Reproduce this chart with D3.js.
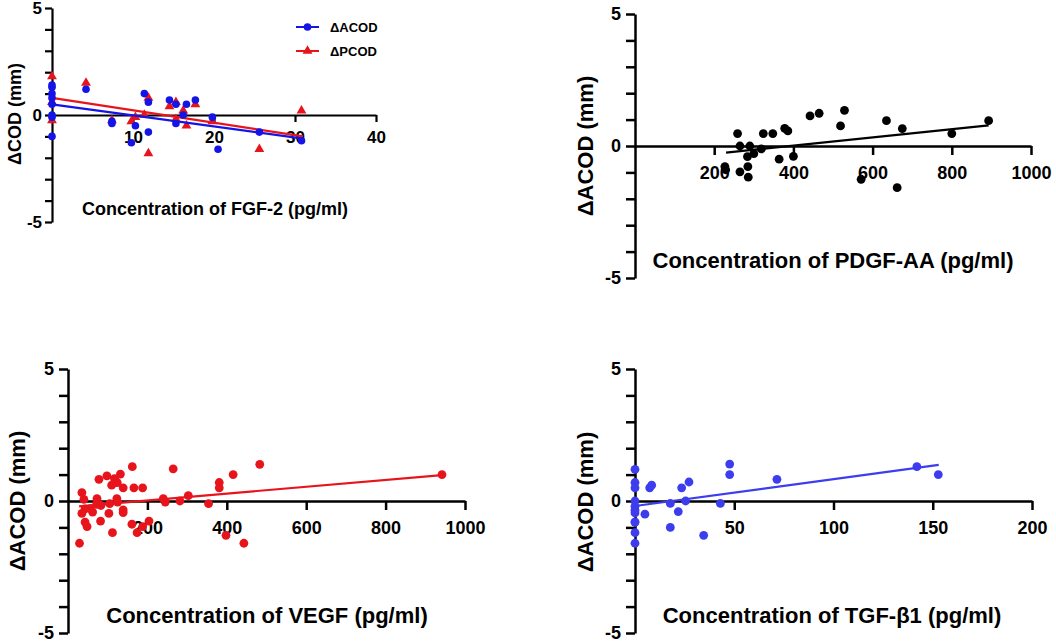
<!DOCTYPE html>
<html>
<head>
<meta charset="utf-8">
<script src="https://cdn.jsdelivr.net/npm/d3@7"></script>
<style>
  body { margin: 0; background: #fff; }
  text { font-family: 'Liberation Sans', Arial, sans-serif; font-weight: bold; }
</style>
</head>
<body>
<script>
const w = 1056, h = 644;

// FGF-2 panel (top left): [concentration, change]
const fgfAcod = [
  [0, 1.4], [0, 1.3], [0, 1.0], [0, 0.8], [0, 0.5], [0, 0], [0, -0.1], [0, -1.0],
  [4.2, 1.2], [7.4, -0.3], [7.4, -0.4], [9.8, -1.3], [10.3, -0.5], [11.4, 1.0],
  [11.9, 0.6], [11.9, -0.8], [14.5, 0.7], [15.3, 0.5], [15.3, -0.4], [16.2, 0],
  [16.6, 0.5], [17.7, 0.7], [19.8, -0.1], [20.5, -1.6], [25.6, -0.8], [30.8, -1.2]
];
const fgfPcod = [
  [0, 1.8], [0, 0.6], [0, -0.25], [4.2, 1.5], [7.4, -0.25], [9.8, -0.3], [10.3, -0.1],
  [11.4, 0], [11.9, 0.8], [11.9, -1.8], [14.5, 0.4], [15.3, 0.6], [15.3, -0.2],
  [16.2, 0.2], [16.6, -0.5], [17.7, 0.5], [19.8, -0.3], [25.6, -1.6], [30.8, 0.2]
];
const fgfFitX = [0, 31];
const fgfFitAcod = [0.5, -1.1];
const fgfFitPcod = [0.8, -1.0];

// PDGF-AA panel (top right)
const pdgfAcod = [
  [227, -0.78], [229, -0.9], [259, 0.47], [265, 0], [265, -0.98], [284, -0.4],
  [285, -0.78], [286, -1.18], [290, 0], [300, -0.29], [319, -0.11], [324, 0.47],
  [348, 0.47], [364, -0.5], [378, 0.67], [386, 0.57], [400, -0.39], [442, 1.14],
  [465, 1.24], [519, 0.76], [529, 1.35], [571, -1.26], [635, 0.96], [662, -1.58],
  [675, 0.66], [800, 0.47], [893, 0.96]
];
const pdgfFitX = [230, 893];
const pdgfFit = [-0.25, 0.78];

// VEGF panel (bottom left)
const vegfAcod = [
  [29, -1.6], [35, 0.32], [40, 0.06], [35, -0.47], [43, -0.8], [48, -0.97], [43, -0.3],
  [56, -0.29], [62, -0.42], [73, 0.09], [72, -0.13], [78, 0.82], [82, -0.76], [83, -0.17],
  [98, 0.95], [103, -0.47], [105, -0.1], [112, -1.2], [110, 0.6], [117, 0.85], [124, 0.7],
  [123, 0.09], [125, -0.04], [132, 1.02], [139, 0.5], [139, -0.34], [139, -0.44],
  [161, -0.88], [162, 1.3], [166, 0.5], [174, -1.2], [188, 0.5], [188, -0.97], [204, -0.76],
  [240, 0.09], [245, -0.04], [265, 1.22], [282, 0], [303, 0.2], [354, -0.1], [381, 0.7],
  [381, 0.5], [398, -1.3], [416, 1.0], [443, -1.6], [483, 1.39], [942, 1.0]
];
const vegfFitX = [28, 942];
const vegfFit = [-0.2, 0.98];

// TGF-β1 panel (bottom right)
const tgfAcod = [
  [0, 1.2], [0, 0.7], [0, 0.5], [0, 0], [0, -0.2], [0, -0.35], [0, -0.45], [0, -0.8],
  [0, -0.8], [0, -1.2], [0, -1.6], [5, -0.5], [7.4, 0.5], [8.4, 0.6], [17.8, -0.09],
  [17.8, -1.0], [21.8, -0.4], [23.5, 0.5], [25.5, 0], [27.2, 0.72], [34.6, -1.3],
  [43, -0.09], [47.7, 1.4], [47.7, 1.0], [71.5, 0.82], [142, 1.3], [152.8, 1.0]
];
const tgfFitX = [0, 153];
const tgfFit = [-0.19, 1.37];

const yTicks = [-5, -4, -3, -2, -1, 0, 1, 2, 3, 4, 5];
const fgfTicks = [10, 20, 30, 40];
const thousandTicks = [200, 400, 600, 800, 1000];
const tgfTicks = [50, 100, 150, 200];

const blue = '#1414e6', red = '#e8141c', tgfBlue = '#3d3def';

const svg = d3.select('body')
              .append('svg')
              .attr('width', w)
              .attr('height', h)

function panel(o) {
    const x = d3.scaleLinear().domain([0, o.xMax]).range(o.xr)
    const y = d3.scaleLinear().domain([-5, 5]).range(o.yr)
    const g = svg.append('g')

    const yAxis = d3.axisLeft(y)
                    .tickValues(yTicks)
                    .tickFormat(d => d % 5 === 0 ? d : '')
                    .tickSize(o.tick)
                    .tickPadding(o.yPad)
                    .tickSizeOuter(0)
    g.append('g')
        .attr('transform', 'translate(' + o.xr[0] + ',0)')
        .call(yAxis)

    const xAxis = d3.axisBottom(x)
                    .tickValues(o.xTicks)
                    .tickFormat(d => d)
                    .tickSize(o.tick)
                    .tickPadding(o.xPad)
                    .tickSizeOuter(0)
    g.append('g')
        .attr('transform', 'translate(0,' + y(0) + ')')
        .call(xAxis)

    g.selectAll('.domain, .tick line')
        .attr('stroke', '#000')
        .attr('stroke-width', o.axisW)
    g.selectAll('.tick text')
        .attr('fill', '#000')
        .style('font-size', o.tickFont + 'px')

    g.append('text')
        .text(o.xTitle)
        .attr('x', o.xTitlePos[0])
        .attr('y', o.xTitlePos[1])
        .attr('text-anchor', 'middle')
        .attr('dominant-baseline', 'central')
        .style('font-size', o.titleFont + 'px')

    g.append('text')
        .text(o.yTitle)
        .attr('transform', 'translate(' + o.yTitlePos[0] + ',' + o.yTitlePos[1] + ') rotate(-90)')
        .attr('text-anchor', 'middle')
        .attr('dominant-baseline', 'central')
        .style('font-size', o.titleFont + 'px')

    return { g, x, y }
}

function fitLine(p, xs, ys, color) {
    p.g.append('line')
        .attr('x1', p.x(xs[0])).attr('y1', p.y(ys[0]))
        .attr('x2', p.x(xs[1])).attr('y2', p.y(ys[1]))
        .attr('stroke', color)
        .attr('stroke-width', 2.2)
}

function dots(p, data, color, r) {
    p.g.append('g')
        .selectAll('circle')
        .data(data)
        .enter()
        .append('circle')
        .attr('cx', d => p.x(d[0]))
        .attr('cy', d => p.y(d[1]))
        .attr('r', r)
        .attr('fill', color)
}

function triangles(p, data, color) {
    p.g.append('g')
        .selectAll('path')
        .data(data)
        .enter()
        .append('path')
        .attr('d', d3.symbol().type(d3.symbolTriangle).size(42))
        .attr('transform', d => 'translate(' + p.x(d[0]) + ',' + p.y(d[1]) + ')')
        .attr('fill', color)
}

// top left
const fgf = panel({
    xMax: 40, xr: [52, 376], yr: [222, 8], xTicks: fgfTicks,
    tick: 7, xPad: 9, yPad: 3, axisW: 2.2, tickFont: 17, titleFont: 18,
    xTitle: 'Concentration of FGF-2 (pg/ml)', xTitlePos: [215, 209],
    yTitle: 'ΔCOD (mm)', yTitlePos: [15, 114]
})
triangles(fgf, fgfPcod, red)
fitLine(fgf, fgfFitX, fgfFitPcod, red)
fitLine(fgf, fgfFitX, fgfFitAcod, blue)
dots(fgf, fgfAcod, blue, 3.8)

// legend
const legend = svg.append('g').attr('class', 'legend')
const legendItems = [
    { name: 'ΔACOD', color: blue, shape: 'circle' },
    { name: 'ΔPCOD', color: red, shape: 'triangle' }
]
legendItems.forEach((d, i) => {
    const ly = 27 + i * 24
    legend.append('line')
        .attr('x1', 296).attr('x2', 319)
        .attr('y1', ly).attr('y2', ly)
        .attr('stroke', d.color).attr('stroke-width', 2)
    if (d.shape === 'circle') {
        legend.append('circle').attr('cx', 307.5).attr('cy', ly).attr('r', 3.8).attr('fill', d.color)
    } else {
        legend.append('path')
            .attr('d', d3.symbol().type(d3.symbolTriangle).size(42))
            .attr('transform', 'translate(307.5,' + ly + ')')
            .attr('fill', d.color)
    }
    legend.append('text')
        .text(d.name)
        .attr('x', 330).attr('y', ly)
        .attr('dominant-baseline', 'central')
        .style('font-size', '13px')
})

// top right
const pdgf = panel({
    xMax: 1000, xr: [635, 1031], yr: [278, 14], xTicks: thousandTicks,
    tick: 9, xPad: 11, yPad: 5, axisW: 2.5, tickFont: 18, titleFont: 22,
    xTitle: 'Concentration of PDGF-AA (pg/ml)', xTitlePos: [833, 260],
    yTitle: 'ΔACOD (mm)', yTitlePos: [585, 146]
})
dots(pdgf, pdgfAcod, '#000', 4.4)
fitLine(pdgf, pdgfFitX, pdgfFit, '#000')

// bottom left
const vegf = panel({
    xMax: 1000, xr: [68, 465], yr: [633, 369], xTicks: thousandTicks,
    tick: 9, xPad: 11, yPad: 5, axisW: 2.5, tickFont: 18, titleFont: 22,
    xTitle: 'Concentration of VEGF (pg/ml)', xTitlePos: [267, 615],
    yTitle: 'ΔACOD (mm)', yTitlePos: [17, 501]
})
dots(vegf, vegfAcod, red, 4.4)
fitLine(vegf, vegfFitX, vegfFit, red)

// bottom right
const tgf = panel({
    xMax: 200, xr: [635, 1032], yr: [633, 369], xTicks: tgfTicks,
    tick: 9, xPad: 11, yPad: 5, axisW: 2.5, tickFont: 18, titleFont: 22,
    xTitle: 'Concentration of TGF-β1 (pg/ml)', xTitlePos: [832, 615],
    yTitle: 'ΔACOD (mm)', yTitlePos: [585, 502]
})
dots(tgf, tgfAcod, tgfBlue, 4.4)
fitLine(tgf, tgfFitX, tgfFit, tgfBlue)
</script>
</body>
</html>
